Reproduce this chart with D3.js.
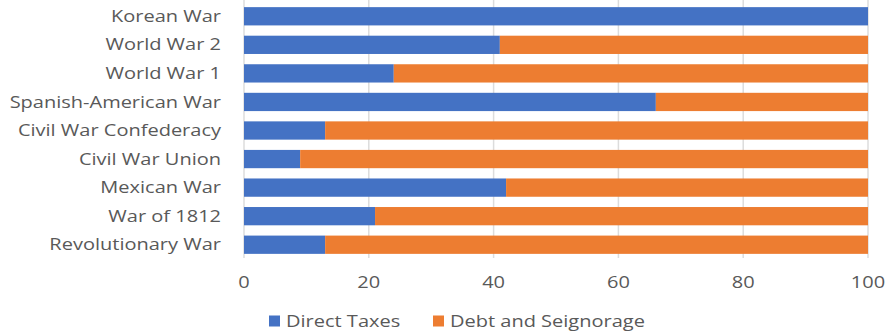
<!DOCTYPE html>
<html>
<head>
<meta charset="utf-8">
<script src="https://cdn.jsdelivr.net/npm/d3@7"></script>
<style>
  body { margin: 0; background: #fff; }
  text { font-family: "Open Sans", sans-serif; fill: #595959; font-size: 16px; }
</style>
</head>
<body>
<figure id="chart" style="margin:0"></figure>
<script>
// war names, top to bottom as drawn
const wars = ["Korean War", "World War 2", "World War 1", "Spanish-American War",
  "Civil War Confederacy", "Civil War Union", "Mexican War", "War of 1812", "Revolutionary War"];
// share of war financing, percent
const directTaxes = [100, 41, 24, 66, 13, 9, 42, 21, 13];
const debtAndSeignorage = [0, 59, 76, 34, 87, 91, 58, 79, 87];
const seriesNames = ["Direct Taxes", "Debt and Seignorage"];
const xTicks = [0, 20, 40, 60, 80, 100];

const width = 889, height = 333;
const colors = ["#4472C4", "#ED7D31"];
const stretch = 1.25; // the source picture is a bit wider than tall

const svg = d3.select("figure#chart")
  .append("svg")
  .attr("width", width)
  .attr("height", height);

const x = d3.scaleLinear().domain([0, 100]).range([244, 868]);
const y = d3.scaleBand().domain(wars).range([2, 259]).paddingInner(0.36).paddingOuter(0.18);

// gridlines
svg.append("g")
  .selectAll("line")
  .data(xTicks)
  .join("line")
  .attr("x1", d => x(d)).attr("x2", d => x(d))
  .attr("y1", 0).attr("y2", 258)
  .style("stroke", "#dcdcdc")
  .style("stroke-width", 1.5);

// stacked bars
const rows = wars.map((w, i) => ({ war: w, a: directTaxes[i], b: debtAndSeignorage[i] }));
const stack = d3.stack().keys(["a", "b"])(rows);

svg.append("g")
  .selectAll("g")
  .data(stack)
  .join("g")
  .style("fill", (d, i) => colors[i])
  .selectAll("rect")
  .data(d => d)
  .join("rect")
  .attr("x", d => x(d[0]))
  .attr("y", d => y(d.data.war))
  .attr("width", d => x(d[1]) - x(d[0]))
  .attr("height", y.bandwidth());

// category labels
svg.append("g")
  .selectAll("text")
  .data(wars)
  .join("text")
  .attr("transform", d => `translate(221,${y(d) + y.bandwidth() / 2}) scale(${stretch},1)`)
  .attr("dy", "0.35em")
  .attr("text-anchor", "end")
  .text(d => d);

// x axis labels
svg.append("g")
  .selectAll("text")
  .data(xTicks)
  .join("text")
  .attr("transform", d => `translate(${x(d)},282) scale(${stretch},1)`)
  .attr("dy", "0.35em")
  .attr("text-anchor", "middle")
  .text(d => d);

// legend
const legendX = [269, 433];
const legend = svg.append("g")
  .selectAll("g")
  .data(seriesNames)
  .join("g")
  .attr("transform", (d, i) => `translate(${legendX[i]},321)`);
legend.append("rect")
  .attr("x", 0).attr("y", -5.5)
  .attr("width", 11).attr("height", 11)
  .style("fill", (d, i) => colors[i]);
legend.append("text")
  .attr("transform", `translate(17,0) scale(${stretch},1)`)
  .attr("dy", "0.35em")
  .text(d => d);
</script>
</body>
</html>
